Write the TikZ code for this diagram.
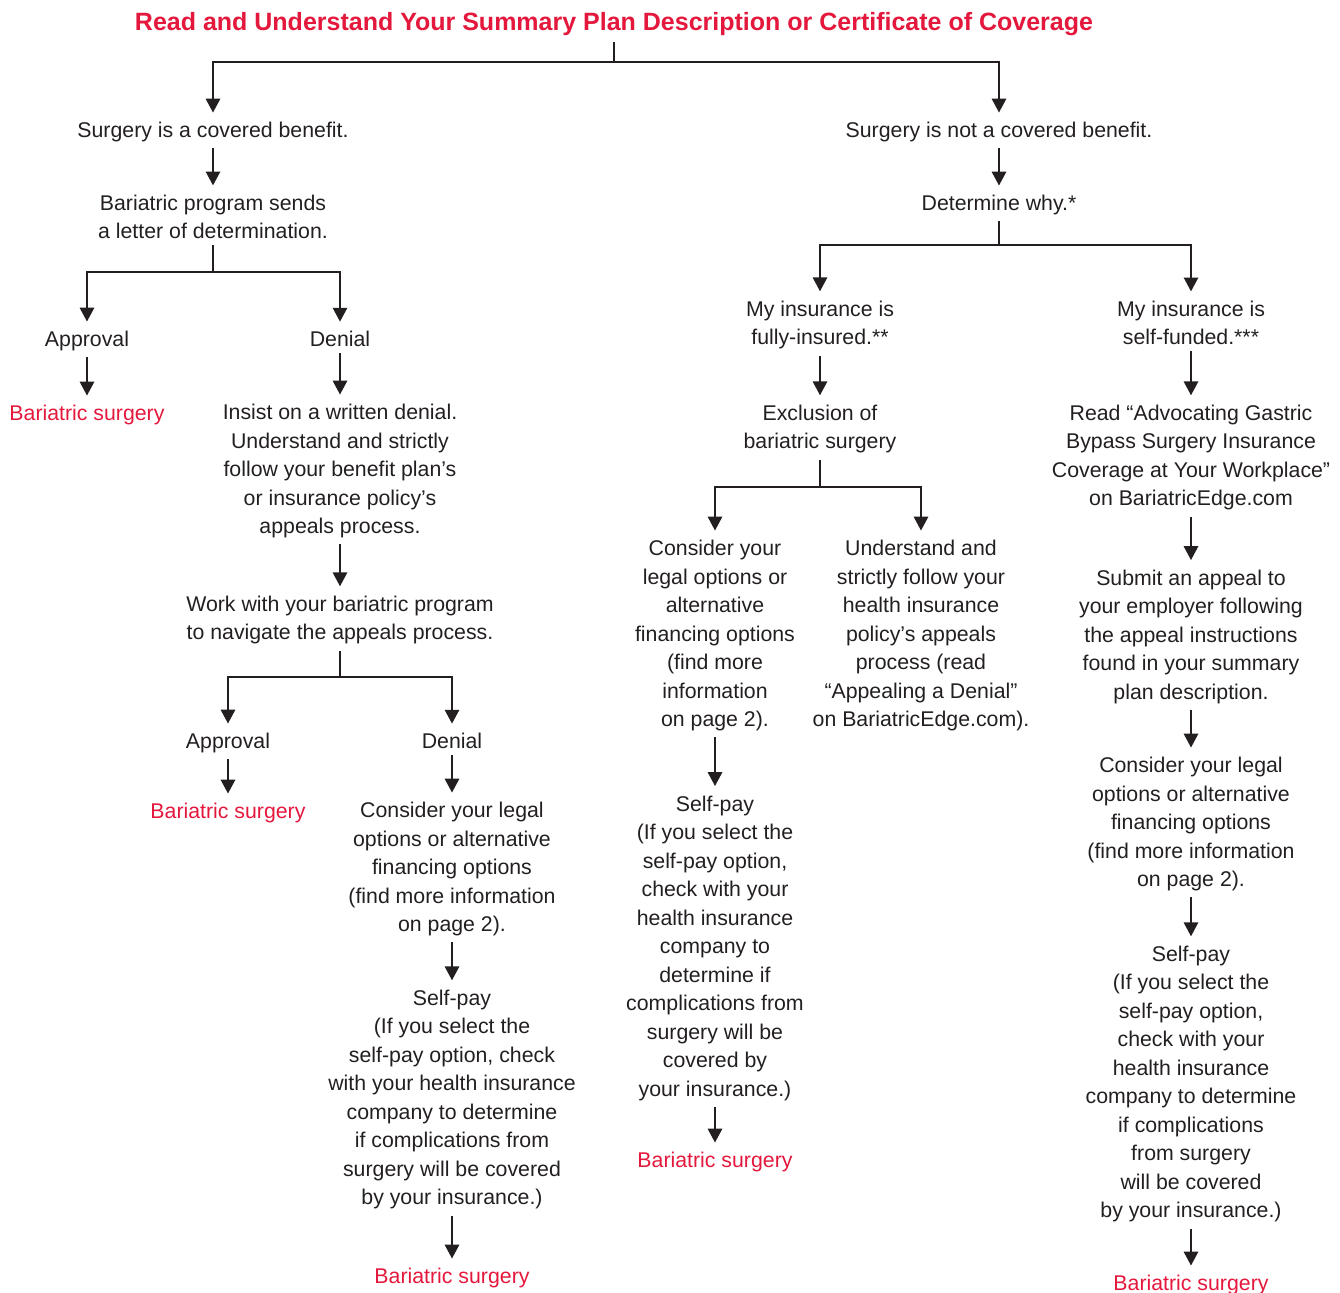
\documentclass[tikz,border=0pt]{standalone}
\usepackage{fontspec}
\setmainfont{Liberation Sans}
\usetikzlibrary{arrows.meta}
\definecolor{planred}{RGB}{228,24,60}
\definecolor{ink}{RGB}{35,31,32}

\begin{document}
\begin{tikzpicture}[x=0.5pt,y=-0.5pt,
    txt/.style={align=center,inner sep=1pt,yshift=-1pt,text=ink,font=\fontsize{10.65}{14.25}\selectfont},
    goal/.style={txt,text=planred},
    link/.style={draw=ink,line width=1.45pt},
    arr/.style={link,-{Triangle[length=7pt,width=7pt]},shorten <=2pt,shorten >=3.5pt}]
\useasboundingbox (0,0) rectangle (1340,1293);

% title
\node[inner sep=1pt,yshift=-1pt,text=planred,font=\fontsize{12.5}{15}\selectfont\bfseries] (title) at (614,22)
    {Read and Understand Your Summary Plan Description or Certificate of Coverage};

% covered side
\node[txt] (cov) at (213,130) {Surgery is a covered benefit.};
\node[txt] (letter) at (213,215) {Bariatric program sends\\ a letter of determination.};
\node[txt] (appA) at (87,339) {Approval};
\node[goal] (surgA) at (87,413) {Bariatric surgery};
\node[txt] (denA) at (340,337) {Denial};
\node[txt] (insist) at (340,469) {Insist on a written denial.\\ Understand and strictly\\ follow your benefit plan’s\\ or insurance policy’s\\ appeals process.};
\node[txt] (work) at (340,618) {Work with your bariatric program\\ to navigate the appeals process.};
\node[txt] (appB) at (228,741) {Approval};
\node[goal] (surgB) at (228,811) {Bariatric surgery};
\node[txt] (denB) at (452,739) {Denial};
\node[txt] (legalB) at (452,867) {Consider your legal\\ options or alternative\\ financing options\\ (find more information\\ on page 2).};
\node[txt] (selfB) at (452,1097.5) {Self-pay\\ (If you select the\\ self-pay option, check\\ with your health insurance\\ company to determine\\ if complications from\\ surgery will be covered\\ by your insurance.)};
\node[goal] (surgC) at (452,1276) {Bariatric surgery};

% not covered side
\node[txt] (notcov) at (999,130) {Surgery is not a covered benefit.};
\node[txt] (why) at (999,203) {Determine why.*};
\node[txt] (fully) at (820,323) {My insurance is\\ fully-insured.**};
\node[txt] (excl) at (820,427) {Exclusion of\\ bariatric surgery};
\node[txt] (legalC) at (715,633.5) {Consider your\\ legal options or\\ alternative\\ financing options\\ (find more\\ information\\ on page 2).};
\node[txt] (selfC) at (715,946) {Self-pay\\ (If you select the\\ self-pay option,\\ check with your\\ health insurance\\ company to\\ determine if\\ complications from\\ surgery will be\\ covered by\\ your insurance.)};
\node[goal] (surgD) at (715,1160) {Bariatric surgery};
\node[txt] (follow) at (921,633.5) {Understand and\\ strictly follow your\\ health insurance\\ policy’s appeals\\ process (read\\ “Appealing a Denial”\\ on BariatricEdge.com).};
\node[txt] (self) at (1191,321) {My insurance is\\ self-funded.***};
\node[txt] (read) at (1191,455.5) {Read “Advocating Gastric\\ Bypass Surgery Insurance\\ Coverage at Your Workplace”\\ on BariatricEdge.com};
\node[txt] (submit) at (1191,634.5) {Submit an appeal to\\ your employer following\\ the appeal instructions\\ found in your summary\\ plan description.};
\node[txt] (legalD) at (1191,822) {Consider your legal\\ options or alternative\\ financing options\\ (find more information\\ on page 2).};
\node[txt] (selfD) at (1191,1082) {Self-pay\\ (If you select the\\ self-pay option,\\ check with your\\ health insurance\\ company to determine\\ if complications\\ from surgery\\ will be covered\\ by your insurance.)};
\node[goal] (surgE) at (1191,1283) {Bariatric surgery};

% branches
\foreach \p/\y/\l/\r in {title/62/cov/notcov, letter/272/appA/denA, work/677/appB/denB,
                         why/245/fully/self, excl/487/legalC/follow} {
    \draw[link,shorten <=2pt] (\p.south) -- (\p.south |- 0,\y) coordinate (j-\p);
    \draw[arr,shorten <=0pt] (j-\p) -| (\l.north);
    \draw[arr,shorten <=0pt] (j-\p) -| (\r.north);
}

% straight steps
\foreach \a/\b in {cov/letter, appA/surgA, denA/insist, insist/work, appB/surgB,
                   denB/legalB, legalB/selfB, selfB/surgC, notcov/why, fully/excl,
                   legalC/selfC, selfC/surgD, self/read, read/submit, submit/legalD,
                   legalD/selfD, selfD/surgE}
    \draw[arr] (\a.south) -- (\a.south |- \b.north);
\end{tikzpicture}
\end{document}
